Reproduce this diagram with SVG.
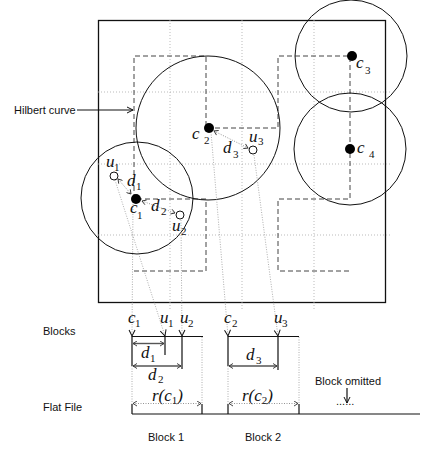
<svg xmlns="http://www.w3.org/2000/svg" width="421" height="453" viewBox="0 0 421 453">
<style>
.sans{font-family:"Liberation Sans",Arial,sans-serif;font-size:11px;fill:#111}
.m{font-family:"Liberation Serif","Times New Roman",serif;font-size:17px;font-style:italic;fill:#111}
.s{font-family:"Liberation Serif","Times New Roman",serif;font-size:11px;fill:#111}
.grid{stroke:#aaa;stroke-width:0.8;stroke-dasharray:1 2;fill:none}
.proj{stroke:#999;stroke-width:0.8;stroke-dasharray:1 1.5;fill:none}
.hil{stroke:#444;stroke-width:1;stroke-dasharray:5 3;fill:none}
.circ{stroke:#111;stroke-width:1;fill:none}
.solid{stroke:#111;stroke-width:1.2;fill:none}
.dim{stroke:#555;stroke-width:1.4;fill:none}
.dotarrow{stroke:#888;stroke-width:0.9;stroke-dasharray:1 1.5;fill:none}
</style>
<defs>
<marker id="ah" markerWidth="8" markerHeight="8" refX="7" refY="4" orient="auto-start-reverse" markerUnits="userSpaceOnUse">
<path d="M1,1 L7,4 L1,7" fill="none" stroke="#111" stroke-width="1"/>
</marker>
<marker id="sa" markerWidth="6" markerHeight="6" refX="5" refY="3" orient="auto-start-reverse" markerUnits="userSpaceOnUse">
<path d="M1,0.5 L5,3 L1,5.5" fill="none" stroke="#333" stroke-width="0.9"/>
</marker>
</defs>

<g id="frame">
<rect x="98.5" y="20.5" width="287" height="282" fill="none" stroke="#111" stroke-width="1.3"/>
<path class="grid" d="M170,20 V310 M242,20 V310 M314,20 V310 M98,92 H390 M98,164 H390 M98,235 H390"/>
</g>

<g id="hilbert">
<path class="hil" d="M134,271 H206 V199 H134 V128 V56 H206 V128 H278 V56 H350 V128 V199 H278 V271 H350"/>
</g>

<g id="circles">
<circle class="circ" cx="137" cy="198" r="56"/>
<circle class="circ" cx="208" cy="128" r="72"/>
<circle class="circ" cx="351" cy="56" r="56"/>
<circle class="circ" cx="350" cy="149" r="56"/>
</g>

<g id="connectors">
<path class="proj" d="M133,204 L132,336" marker-end="url(#ah)"/>
<path class="proj" d="M115,180 L165,336" marker-end="url(#ah)"/>
<path class="proj" d="M181,220 L182,336" marker-end="url(#ah)"/>
<path class="proj" d="M211,132 L228,336" marker-end="url(#ah)"/>
<path class="proj" d="M254,155 L278,336" marker-end="url(#ah)"/>
<path class="dotarrow" d="M118,179 L131,194" marker-start="url(#sa)" marker-end="url(#sa)"/>
<path class="dotarrow" d="M142,201 L175,213" marker-start="url(#sa)" marker-end="url(#sa)"/>
<path class="dotarrow" d="M214,131 L248,148" marker-start="url(#sa)" marker-end="url(#sa)"/>
<path class="solid" d="M77,110 H133" marker-end="url(#ah)"/>
</g>

<g id="points">
<circle cx="136" cy="199" r="5" fill="#000"/>
<circle cx="209" cy="128" r="5" fill="#000"/>
<circle cx="352" cy="56" r="5" fill="#000"/>
<circle cx="350" cy="149" r="5" fill="#000"/>
<circle cx="114" cy="176" r="4" fill="#fff" stroke="#111" stroke-width="1"/>
<circle cx="180" cy="215" r="4" fill="#fff" stroke="#111" stroke-width="1"/>
<circle cx="253" cy="150" r="4" fill="#fff" stroke="#111" stroke-width="1"/>
</g>

<g id="labels-top">
<text class="sans" x="14" y="114">Hilbert curve</text>
<text class="m" x="106" y="167">u</text><text class="s" x="114" y="171">1</text>
<text class="m" x="127" y="186">d</text><text class="s" x="136" y="190">1</text>
<text class="m" x="130" y="213">c</text><text class="s" x="137" y="219">1</text>
<text class="m" x="151" y="211">d</text><text class="s" x="161" y="215">2</text>
<text class="m" x="172" y="231">u</text><text class="s" x="181" y="235">2</text>
<text class="m" x="192" y="139">c</text><text class="s" x="204" y="144">2</text>
<text class="m" x="249" y="142">u</text><text class="s" x="258" y="145">3</text>
<text class="m" x="223" y="153">d</text><text class="s" x="233" y="158">3</text>
<text class="m" x="356" y="68">c</text><text class="s" x="365" y="74">3</text>
<text class="m" x="357" y="153">c</text><text class="s" x="369" y="158">4</text>
</g>

<g id="blocks">
<text class="sans" x="43" y="335">Blocks</text>
<path class="solid" d="M132,336.5 H203 M228,336.5 H299"/>
<path class="solid" d="M132,336 V366 M165,336 V355 M182,336 V369 M228,336 V366 M278,336 V370"/>
<path class="dim" d="M133,343.5 H164" marker-start="url(#sa)" marker-end="url(#sa)"/>
<path class="dim" d="M133,366 H181" marker-start="url(#sa)" marker-end="url(#sa)"/>
<path class="dim" d="M229,366 H277" marker-start="url(#sa)" marker-end="url(#sa)"/>
<text class="m" x="128" y="323">c</text><text class="s" x="135" y="327">1</text>
<text class="m" x="160" y="323">u</text><text class="s" x="168" y="327">1</text>
<text class="m" x="180" y="323">u</text><text class="s" x="188" y="327">2</text>
<text class="m" x="224" y="323">c</text><text class="s" x="232" y="327">2</text>
<text class="m" x="274" y="323">u</text><text class="s" x="282" y="327">3</text>
<text class="m" x="141" y="358">d</text><text class="s" x="150" y="362">1</text>
<text class="m" x="148" y="380">d</text><text class="s" x="158" y="383">2</text>
<text class="m" x="246" y="360">d</text><text class="s" x="256" y="364">3</text>
</g>

<g id="flatfile">
<text class="sans" x="43" y="411">Flat File</text>
<path class="proj" d="M132,366 V404 M202,337 V404 M228,366 V404 M299,337 V404"/>
<path class="solid" d="M132,414 H420 M132,404 V414 M202,404 V414 M228,404 V414 M299,404 V414"/>
<path class="dotarrow" d="M133,403.5 H201" marker-start="url(#sa)" marker-end="url(#sa)"/>
<path class="dotarrow" d="M229,403.5 H298" marker-start="url(#sa)" marker-end="url(#sa)"/>
<text class="m" x="152" y="401">r(c<tspan class="s" font-style="normal" dy="3">1</tspan><tspan dy="-3">)</tspan></text>
<text class="m" x="242" y="401">r(c<tspan class="s" font-style="normal" dy="3">2</tspan><tspan dy="-3">)</tspan></text>
<text class="sans" x="315" y="385">Block omitted</text>
<path class="solid" d="M347,388 V403" stroke-width="1" marker-end="url(#ah)"/>
<text class="sans" x="336" y="405">......</text>
<text class="sans" x="148" y="441">Block 1</text>
<text class="sans" x="245" y="441">Block 2</text>
</g>
</svg>
